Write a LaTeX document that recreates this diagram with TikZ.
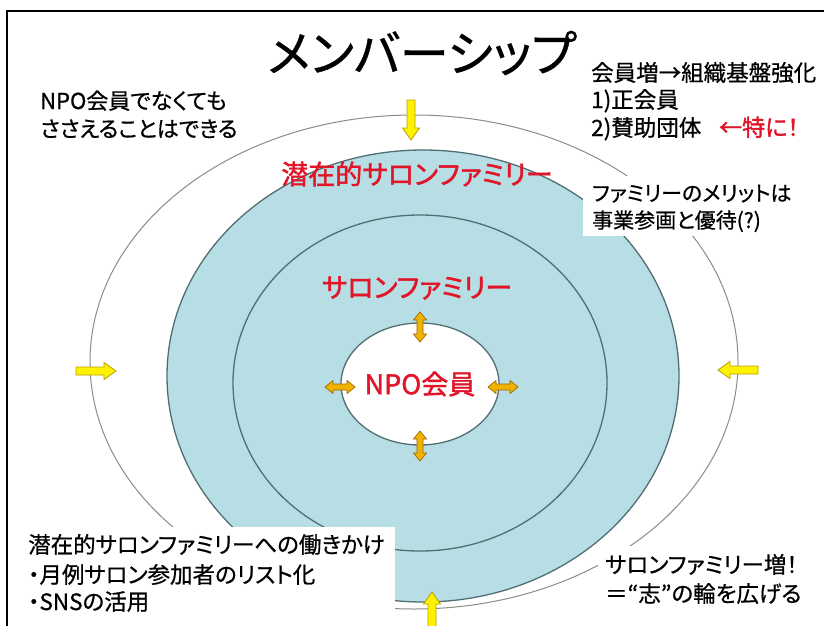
\documentclass[tikz,border=0pt]{standalone}
\usepackage{fontspec}
\setmainfont{Noto Sans CJK JP}[RawFeature=+palt, FakeBold=0.7]
\newfontfamily\jpbold{Noto Sans CJK JP}[RawFeature=+palt, FakeBold=1.6]
\usetikzlibrary{shapes.geometric}
\definecolor{famblue}{RGB}{183,222,228}
\definecolor{ringline}{RGB}{80,110,115}
\definecolor{outerline}{RGB}{140,140,140}
\definecolor{redtxt}{RGB}{225,20,40}
\definecolor{yborder}{RGB}{185,160,0}
\definecolor{ofill}{RGB}{240,180,0}
\definecolor{oborder}{RGB}{160,105,0}
\begin{document}
\begin{tikzpicture}[x=1pt,y=-1pt,
  ring/.style={ellipse, draw=ringline, line width=1.3pt, inner sep=0pt},
  txt/.style={anchor=base west, inner sep=0pt, font=\fontsize{21}{24}\selectfont},
  redlbl/.style={inner sep=0pt, text=redtxt, font=\jpbold\fontsize{27}{30}\selectfont},
  whitebox/.style={fill=white, inner sep=0pt, anchor=north west},
  yarr/.pic={\filldraw[draw=yborder, fill=yellow, line width=0.8pt]
     (-20,-4) -- (8,-4) -- (8,-8.5) -- (20,0) -- (8,8.5) -- (8,4) -- (-20,4) -- cycle;},
  oarr/.pic={\filldraw[draw=oborder, fill=ofill, line width=0.7pt]
     (-15,0) -- (-7,-6.5) -- (-7,-3) -- (7,-3) -- (7,-6.5) -- (15,0) -- (7,6.5) -- (7,3) -- (-7,3) -- (-7,6.5) -- cycle;}]
\useasboundingbox (0,0) rectangle (824,626);
\clip (0,0) rectangle (824,626);
\fill[white] (0,0) rectangle (824,626);
% frame
\draw[line width=2pt] (7,640) -- (7,11) -- (830,11);
% rings
\node[ellipse, draw=outerline, line width=1pt, inner sep=0pt, minimum width=648pt, minimum height=494pt] (outer) at (414,362) {};
\node[ring, fill=famblue, minimum width=512pt, minimum height=452pt] (fam) at (423,376) {};
\node[ring, minimum width=374pt, minimum height=336pt] (salon) at (420,383) {};
\node[ring, fill=white, minimum width=158pt, minimum height=122pt, text=redtxt, font=\jpbold\fontsize{27}{30}\selectfont] (npo) at (420,384) {NPO会員};
% title
\node[inner sep=0pt, font=\fontsize{49}{52}\selectfont] (title) at (422,53) {メンバーシップ};
% top-left
\node[txt, font=\fontsize{22}{24}\selectfont] (tl1) at (40,109) {NPO会員でなくても};
\node[txt, font=\fontsize{22}{24}\selectfont] (tl2) at (40,137) {ささえることはできる};
% top-right
\node[txt, font=\fontsize{22.5}{24}\selectfont] (tr1) at (591,81) {会員増→組織基盤強化};
\node[txt, font=\fontsize{22.5}{24}\selectfont] (tr2) at (591,108) {1)正会員};
\node[txt, font=\fontsize{22.5}{24}\selectfont] (tr3) at (591,136) {2)賛助団体};
\node[txt, font=\jpbold\fontsize{23}{24}\selectfont, text=redtxt] (tr4) at (719,136) {←特に！};
% merit box
\node[whitebox, minimum width=232pt, minimum height=60pt] (meritbox) at (583,176) {};
\node[txt] (m1) at (592,201) {ファミリーのメリットは};
\node[txt] (m2) at (592,228) {事業参画と優待(?)};
% red labels
\node[redlbl] (lat) at (417,174) {潜在的サロンファミリー};
\node[redlbl] (sal) at (417,288) {サロンファミリー};
% bottom-left box
\node[whitebox, minimum width=375pt, minimum height=110pt] (blbox) at (20,527) {};
\node[txt, font=\fontsize{22.5}{24}\selectfont] (bl1) at (28,553) {潜在的サロンファミリーへの働きかけ};
\node[txt, font=\fontsize{22.5}{24}\selectfont] (bl2) at (28,583) {・月例サロン参加者のリスト化};
\node[txt, font=\fontsize{22.5}{24}\selectfont] (bl3) at (28,610) {・SNSの活用};
% bottom-right box
\node[whitebox, minimum width=220pt, minimum height=66pt] (brbox) at (598,546) {};
\node[txt, font=\fontsize{22.5}{24}\selectfont] (br1) at (605,573) {サロンファミリー増！};
\node[txt, font=\fontsize{22.5}{24}\selectfont] (br2) at (605,602) {＝“志”の輪を広げる};
% yellow arrows
\pic[rotate=-90] (ydown) at (411,120) {yarr};
\pic (yright) at (96,371) {yarr};
\pic[rotate=180] (yleft) at (738,370) {yarr};
\pic[rotate=90] (yup) at (432,612) {yarr};
% orange double arrows
\pic[rotate=90] (oup) at (420,327) {oarr};
\pic[rotate=90] (odown) at (420,446) {oarr};
\pic (oleft) at (340,387) {oarr};
\pic (oright) at (503,387) {oarr};
\end{tikzpicture}
\end{document}
